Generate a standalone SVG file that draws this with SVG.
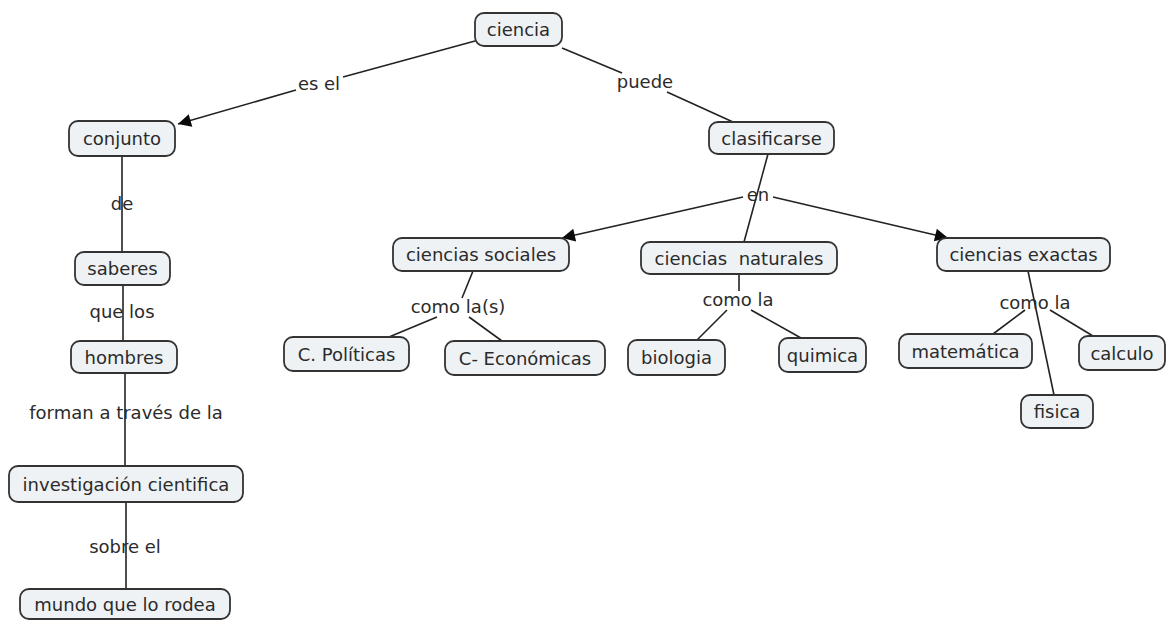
<svg xmlns="http://www.w3.org/2000/svg" width="1166" height="620" viewBox="0 0 1166 620">
  <defs>
    <marker id="arrow" viewBox="0 0 10 10" refX="10" refY="5" markerWidth="18" markerHeight="13" markerUnits="userSpaceOnUse" orient="auto">
      <path d="M0,0 L10,5 L0,10 z" fill="#0a0a0a"/>
    </marker>
  </defs>
  <style>
    .node rect { fill: #eef2f5; stroke: #333; stroke-width: 1.8; }
    text { font-family: "DejaVu Sans", Verdana, sans-serif; font-size: 18px; fill: #2b2b2b; text-anchor: middle; white-space: pre; }
    .links line, .links polyline { stroke: #222; stroke-width: 1.6; fill: none; }
  </style>
  <rect width="1166" height="620" fill="#ffffff"/>

  <!-- connectors -->
  <g class="links">
    <polyline points="475,41 343,77"/>
    <line x1="296" y1="90" x2="178" y2="124" marker-end="url(#arrow)"/>
    <line x1="562" y1="48" x2="622" y2="73"/>
    <line x1="667" y1="92" x2="733" y2="122"/>
    <line x1="768" y1="154" x2="744" y2="242"/>
    <line x1="743" y1="197" x2="562" y2="238" marker-end="url(#arrow)"/>
    <line x1="773" y1="197" x2="948" y2="238" marker-end="url(#arrow)"/>
    <line x1="122" y1="156" x2="122" y2="252"/>
    <line x1="123" y1="285" x2="123" y2="341"/>
    <line x1="125" y1="373" x2="125" y2="466"/>
    <line x1="126" y1="502" x2="126" y2="589"/>
    <line x1="473" y1="271" x2="462" y2="298"/>
    <line x1="437" y1="317" x2="389" y2="337"/>
    <line x1="469" y1="317" x2="502" y2="341"/>
    <line x1="739" y1="274" x2="739" y2="291"/>
    <line x1="727" y1="310" x2="697" y2="340"/>
    <line x1="751" y1="310" x2="801" y2="338"/>
    <line x1="1028" y1="271" x2="1054" y2="395"/>
    <line x1="1025" y1="310" x2="993" y2="334"/>
    <line x1="1050" y1="310" x2="1093" y2="336"/>
  </g>

  <!-- linking phrases -->
  <g class="phrases">
    <text x="319" y="90">es el</text>
    <text x="645" y="88">puede</text>
    <text x="758" y="201">en</text>
    <text x="122" y="210">de</text>
    <text x="122" y="318">que los</text>
    <text x="126" y="419">forman a través de la</text>
    <text x="125" y="553">sobre el</text>
    <text x="458" y="313">como la(s)</text>
    <text x="738" y="306">como la</text>
    <text x="1035" y="309">como la</text>
  </g>

  <!-- concepts -->
  <g id="ciencia" class="node"><rect x="475" y="13" width="87" height="33" rx="9"/><text x="518.5" y="36">ciencia</text></g>
  <g id="conjunto" class="node"><rect x="69" y="121" width="106" height="35" rx="9"/><text x="122" y="145">conjunto</text></g>
  <g id="saberes" class="node"><rect x="75" y="252" width="95" height="33" rx="9"/><text x="122.5" y="275">saberes</text></g>
  <g id="hombres" class="node"><rect x="71" y="341" width="106" height="32" rx="9"/><text x="124" y="363.5">hombres</text></g>
  <g id="investigacion" class="node"><rect x="9" y="466" width="234" height="36" rx="9"/><text x="126" y="490.5">investigación cientifica</text></g>
  <g id="mundo" class="node"><rect x="20" y="589" width="210" height="30" rx="9"/><text x="125" y="610.5">mundo que lo rodea</text></g>
  <g id="clasificarse" class="node"><rect x="709" y="122" width="125" height="32" rx="9"/><text x="771.5" y="144.5">clasificarse</text></g>
  <g id="sociales" class="node"><rect x="393" y="238" width="176" height="33" rx="9"/><text x="481" y="261">ciencias sociales</text></g>
  <g id="naturales" class="node"><rect x="641" y="242" width="196" height="32" rx="9"/><text x="739" y="264.5">ciencias  naturales</text></g>
  <g id="exactas" class="node"><rect x="937" y="238" width="173" height="33" rx="9"/><text x="1023.5" y="261">ciencias exactas</text></g>
  <g id="politicas" class="node"><rect x="284" y="337" width="125" height="34" rx="9"/><text x="346.5" y="360.5">C. Políticas</text></g>
  <g id="economicas" class="node"><rect x="445" y="341" width="160" height="34" rx="9"/><text x="525" y="364.5">C- Económicas</text></g>
  <g id="biologia" class="node"><rect x="628" y="340" width="97" height="35" rx="9"/><text x="676.5" y="364">biologia</text></g>
  <g id="quimica" class="node"><rect x="779" y="338" width="87" height="34" rx="9"/><text x="822.5" y="361.5">quimica</text></g>
  <g id="matematica" class="node"><rect x="899" y="334" width="133" height="34" rx="9"/><text x="965.5" y="357.5">matemática</text></g>
  <g id="calculo" class="node"><rect x="1079" y="336" width="86" height="34" rx="9"/><text x="1122" y="359.5">calculo</text></g>
  <g id="fisica" class="node"><rect x="1021" y="395" width="72" height="33" rx="9"/><text x="1057" y="418">fisica</text></g>
</svg>
